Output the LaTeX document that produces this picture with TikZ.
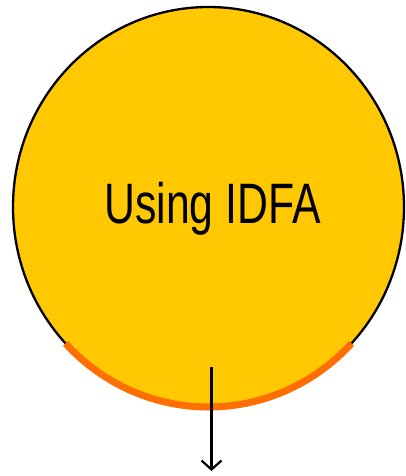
\documentclass[tikz,border=0pt]{standalone}
\usepackage{fontspec}
\setmainfont{Liberation Sans}
\usetikzlibrary{arrows.meta,calc}
\definecolor{sun}{HTML}{FFC800}
\definecolor{rim}{HTML}{FF6E00}
\tikzset{
  disc/.style={fill=sun, draw=black, line width=2.3pt},
  rimarc/.style={draw=rim, line width=7pt},
  flow/.style={draw=black, line width=2.2pt, -{Straight Barb[length=9pt,width=20pt,line width=2.2pt]}},
  title/.style={font=\fontsize{57}{60}\selectfont, inner sep=0pt, anchor=base}
}
\begin{document}
\begin{tikzpicture}[x=1pt,y=-1pt]
\useasboundingbox (0,0) rectangle (405,476);
\coordinate (ctr) at (208.5,207);
\draw[disc] (ctr) ellipse [x radius=195.5, y radius=200];
\draw[rimarc] ($(ctr)+({195.5*cos(137)},{200*sin(137)})$) arc [start angle=137, end angle=43, x radius=195.5, y radius=200];
\node[title] (t) at (212.5,223) {\scalebox{0.75}[1]{Using IDFA}};
\coordinate (a) at (211.5,367);
\coordinate (b) at (211.5,471);
\draw[flow] (a) -- (b);
\end{tikzpicture}
\end{document}
